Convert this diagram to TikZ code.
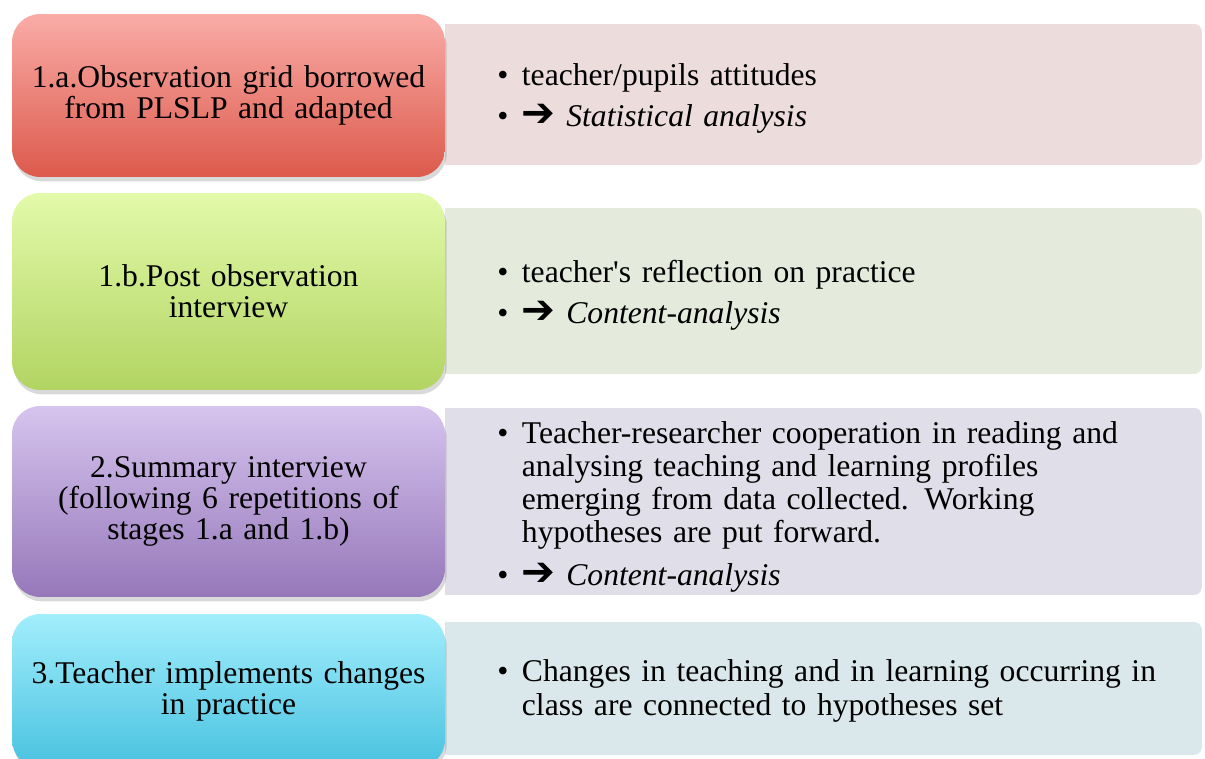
\documentclass[tikz,border=0pt]{standalone}
\usepackage{fontspec}
\setmainfont{Liberation Serif}
\newfontfamily\symfont{DejaVu Sans}
\usetikzlibrary{shadows}
\definecolor{redtop}{RGB}{250,172,167}
\definecolor{redbot}{RGB}{220,90,76}
\definecolor{redtint}{RGB}{236,220,220}
\definecolor{greentop}{RGB}{226,250,170}
\definecolor{greenbot}{RGB}{178,212,98}
\definecolor{greentint}{RGB}{228,234,220}
\definecolor{purpletop}{RGB}{214,196,238}
\definecolor{purplebot}{RGB}{150,120,186}
\definecolor{purpletint}{RGB}{224,222,232}
\definecolor{cyantop}{RGB}{162,238,252}
\definecolor{cyanbot}{RGB}{72,194,224}
\definecolor{cyantint}{RGB}{218,232,236}
\newcommand{\bitem}[1]{\makebox[14pt][l]{\textbullet}\parbox[t]{400pt}{#1}}
\newcommand{\arr}{{\symfont\bfseries\fontsize{23}{18}\selectfont ➔}}

\begin{document}
\begin{tikzpicture}[x=0.02cm, y=-0.02cm,
  stepbox/.style={rounded corners=16pt, inner sep=0pt, align=center, text width=8.3cm,
    font=\fontsize{18}{17.6}\selectfont,
    drop shadow={shadow xshift=1pt, shadow yshift=-2.5pt, opacity=0.3}},
  notebox/.style={rounded corners=4.5pt, inner sep=0pt, minimum width=15.14cm},
  notetext/.style={anchor=west, align=left, text width=15cm, inner sep=0pt,
    font=\fontsize{18}{18.9}\selectfont}]
  \useasboundingbox (0,0) rectangle (1205,759);

  % Row 1: observation grid
  \node[notebox, fill=redtint, minimum height=2.82cm] (obsnote) at (823.5,94.5) {};
  \fill[redtint] (obsnote.north west) rectangle ([xshift=1cm]obsnote.south west);
  \node[notetext] (obstext) at (497,98.5) {\bitem{teacher/pupils attitudes}\\[4.5pt]
    \bitem{\arr\ \textit{Statistical analysis}}};
  \node[stepbox, top color=redtop, bottom color=redbot, minimum width=8.66cm, minimum height=3.26cm]
    (obs) at (228.5,95.5) {1.a.Observation grid borrowed\\from PLSLP and adapted};

  % Row 2: post observation interview
  \node[notebox, fill=greentint, minimum height=3.32cm] (postnote) at (823.5,291) {};
  \fill[greentint] (postnote.north west) rectangle ([xshift=1cm]postnote.south west);
  \node[notetext] (posttext) at (497,295) {\bitem{teacher\textquotesingle s reflection on practice}\\[4.5pt]
    \bitem{\arr\ \textit{Content-analysis}}};
  \node[stepbox, top color=greentop, bottom color=greenbot, minimum width=8.66cm, minimum height=3.94cm]
    (post) at (228.5,291.5) {1.b.Post observation\\interview};

  % Row 3: summary interview
  \node[notebox, fill=purpletint, minimum height=3.74cm] (sumnote) at (823.5,501.5) {};
  \fill[purpletint] (sumnote.north west) rectangle ([xshift=1cm]sumnote.south west);
  \node[notetext] (sumtext) at (497,507) {\bitem{Teacher-researcher cooperation in reading and\\
    analysing teaching and learning profiles\\emerging from data collected. Working\\
    hypotheses are put forward.}\\[7pt]
    \bitem{\arr\ \textit{Content-analysis}}};
  \node[stepbox, top color=purpletop, bottom color=purplebot, minimum width=8.66cm, minimum height=3.82cm]
    (sum) at (228.5,501.5) {2.Summary interview\\(following 6 repetitions of\\stages 1.a and 1.b)};

  % Row 4: changes in practice
  \node[notebox, fill=cyantint, minimum height=2.66cm] (chgnote) at (823.5,688.5) {};
  \fill[cyantint] (chgnote.north west) rectangle ([xshift=1cm]chgnote.south west);
  \node[notetext] (chgtext) at (497,691) {\bitem{Changes in teaching and in learning occurring in\\
    class are connected to hypotheses set}};
  \node[stepbox, top color=cyantop, bottom color=cyanbot, minimum width=8.66cm, minimum height=3.08cm]
    (chg) at (228.5,691) {3.Teacher implements changes\\in practice};
\end{tikzpicture}
\end{document}
